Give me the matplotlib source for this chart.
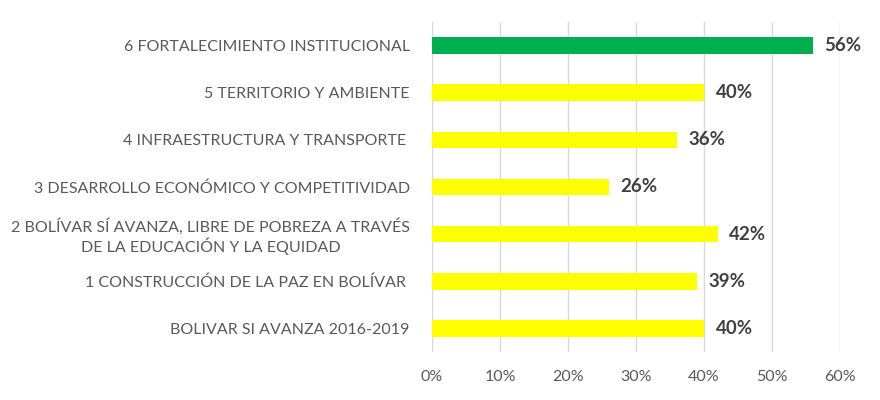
import matplotlib.pyplot as plt

# bottom to top, as drawn
categories = [
    "BOLIVAR SI AVANZA 2016-2019",
    "1 CONSTRUCCIÓN DE LA PAZ EN BOLÍVAR ",
    "2 BOLÍVAR SÍ AVANZA, LIBRE DE POBREZA A TRAVÉS\nDE LA EDUCACIÓN Y LA EQUIDAD",
    "3 DESARROLLO ECONÓMICO Y COMPETITIVIDAD",
    "4 INFRAESTRUCTURA Y TRANSPORTE ",
    "5 TERRITORIO Y AMBIENTE",
    "6 FORTALECIMIENTO INSTITUCIONAL",
]
values = [0.40, 0.39, 0.42, 0.26, 0.36, 0.40, 0.56]
colors = ["#ffff00"] * 6 + ["#00b050"]
xticks = [0, 0.1, 0.2, 0.3, 0.4, 0.5, 0.6]

plt.rcParams["font.family"] = ["Lato", "DejaVu Sans"]

fig = plt.figure(figsize=(8.8, 4.0), dpi=100)
ax = fig.add_axes([0.491, 0.121, 0.4635, 0.823])

y = range(len(categories))
ax.barh(y, values, height=0.36, color=colors, zorder=3)

for yi, v in zip(y, values):
    ax.text(v + 0.017, yi, f"{round(v * 100)}%", va="center", ha="left",
            fontsize=13.5, fontweight="bold", color="#404040")

ax.set_ylim(-0.5, len(categories) - 0.5)
ax.set_xlim(0, 0.6)
ax.set_xticks(xticks)
ax.set_xticklabels([f"{round(t * 100)}%" for t in xticks])
ax.set_yticks(list(y))
ax.set_yticklabels(categories, multialignment="center")

ax.grid(axis="x", color="#d9d9d9", linewidth=1, zorder=0)
for s in ax.spines.values():
    s.set_visible(False)
ax.tick_params(axis="both", length=0, colors="#595959", labelsize=11.5)
ax.tick_params(axis="y", pad=16)
ax.tick_params(axis="x", pad=13)

fig.savefig("out.png", dpi=100)
